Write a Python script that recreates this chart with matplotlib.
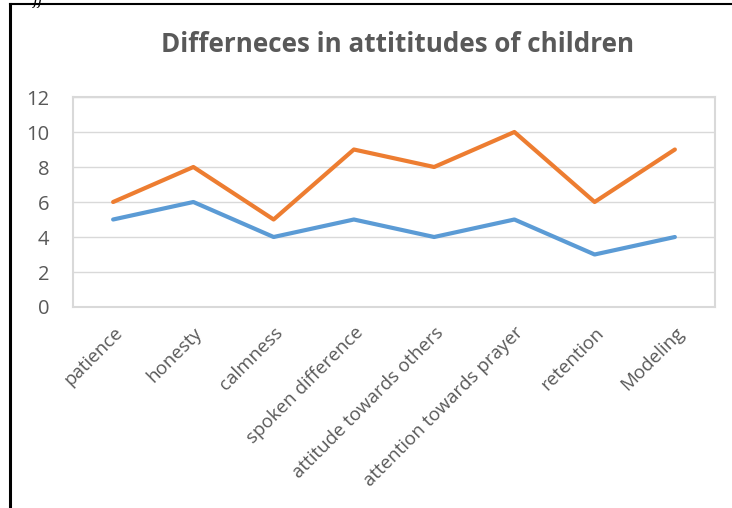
import matplotlib.pyplot as plt
from matplotlib.lines import Line2D

# data
categories = ['patience', 'honesty', 'calmness', 'spoken difference',
              'attitude towards others', 'attention towards prayer',
              'retention', 'Modeling']
series_blue = [5, 6, 4, 5, 4, 5, 3, 4]
series_orange = [6, 8, 5, 9, 8, 10, 6, 9]
yticks = [0, 2, 4, 6, 8, 10, 12]

plt.rcParams['font.family'] = ['Open Sans', 'DejaVu Sans']
txt = '#595959'

fig = plt.figure(figsize=(7.32, 5.08), dpi=100)
ax = fig.add_axes([73 / 732, 1 - 307 / 508, 642 / 732, 210 / 508])

x = range(len(categories))
ax.plot(x, series_blue, color='#5B9BD5', lw=3, solid_capstyle='round')
ax.plot(x, series_orange, color='#ED7D31', lw=3, solid_capstyle='round')

ax.set_xlim(-0.5, len(categories) - 0.5)
ax.set_ylim(0, 12)
ax.set_yticks(yticks)
ax.set_yticklabels([str(v) for v in yticks], color=txt, fontsize=14.5)
ax.grid(axis='y', color='#d9d9d9', lw=1)
ax.set_axisbelow(True)
ax.set_xticks(list(x))
ax.set_xticklabels(categories, rotation=45, ha='right', rotation_mode='anchor',
                   color=txt, fontsize=13.5)
ax.tick_params(axis='x', length=0, pad=12)
ax.tick_params(axis='y', length=0, pad=17)
for s in ax.spines.values():
    s.set_color('#d9d9d9')
    s.set_linewidth(1.5)

fig.text(398 / 732, 1 - 45 / 508, 'Differneces in attititudes of children',
         ha='center', va='center', fontsize=18.7, fontweight='bold', color=txt)

# outer frame (partial, as in the source page)
fig.add_artist(Line2D([10 / 732, 10 / 732], [0, 1 - 4 / 508], color='black', lw=2.2,
                      transform=fig.transFigure))
fig.add_artist(Line2D([10 / 732, 1], [1 - 4 / 508, 1 - 4 / 508], color='black', lw=1.5,
                      transform=fig.transFigure))
fig.text(33 / 732, 1 - 1 / 508, 'ff', fontsize=11, style='italic', va='center',
         family='DejaVu Serif')

fig.savefig('out.png', dpi=100)
